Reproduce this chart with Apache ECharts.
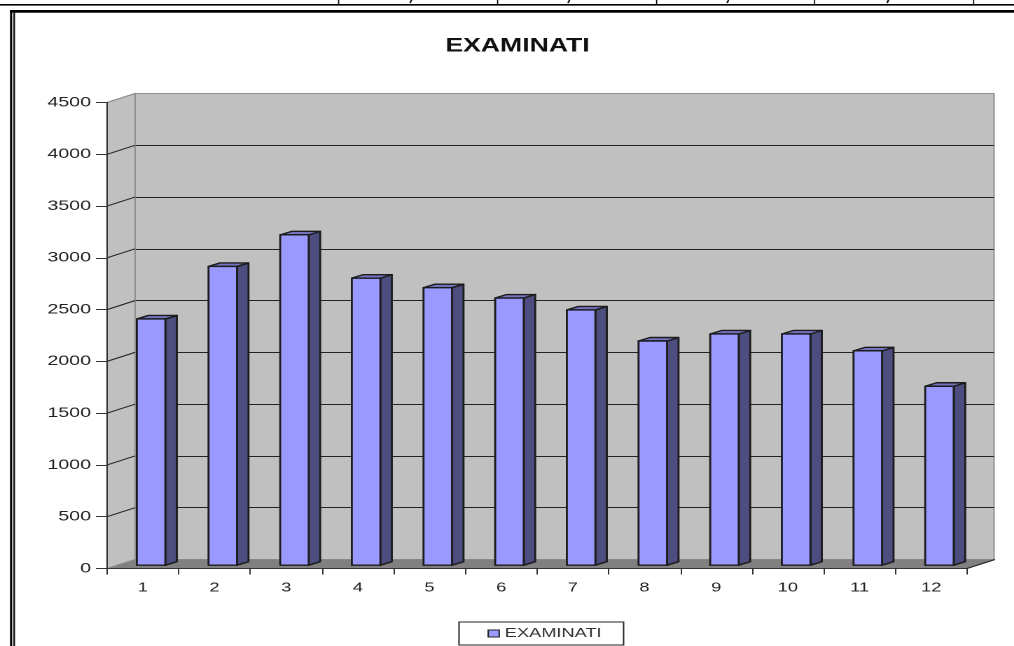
<!DOCTYPE html>
<html>
<head>
<meta charset="utf-8">
<script src="https://cdn.jsdelivr.net/npm/echarts@6/dist/echarts.min.js"></script>
<style>
  html, body { margin: 0; padding: 0; background: #fff; overflow: hidden; }
  /* the original is a horizontally stretched screenshot, so the whole chart is stretched too */
  #main { width: 724px; height: 646px; transform-origin: 0 0; transform: scaleX(1.4006); }
</style>
</head>
<body>
<div id="main"></div>
<script>
const categories = ['1', '2', '3', '4', '5', '6', '7', '8', '9', '10', '11', '12'];
const examinati = [2378, 2885, 3190, 2772, 2680, 2580, 2465, 2165, 2233, 2233, 2070, 1728];
const valueTicks = [0, 500, 1000, 1500, 2000, 2500, 3000, 3500, 4000, 4500];

const sx = 1014 / 724; // page px -> chart px
const px = v => v / sx;
const wallDepth = [px(28), -9];
const barWidth = px(28.5);
const barDepth = [px(11.5), -3.5];
const barShift = [px(8.25), -3.3];

const frontGrid = { left: px(107), right: px(47), top: 102.5, bottom: 77.5 };
const backGrid = { left: px(135), right: px(20), top: 93.5, bottom: 86.5 };

const chart = echarts.init(document.getElementById('main'), null, { devicePixelRatio: 2 });

// left wall + floor of the box, hung on the front grid
function renderWalls(params, api) {
  const c = params.coordSys;
  const d = wallDepth;
  const l = c.x, r = c.x + c.width, t = c.y, b = c.y + c.height;
  return {
    type: 'group',
    children: [
      { type: 'polygon', shape: { points: [[l, t], [l + d[0], t + d[1]], [l + d[0], b + d[1]], [l, b]] },
        style: { fill: '#c0c0c0', stroke: '#909090', lineWidth: 1 } },
      { type: 'polygon', shape: { points: [[l, b], [l + d[0], b + d[1]], [r + d[0], b + d[1]], [r, b]] },
        style: { fill: '#808080' } },
      { type: 'line', shape: { x1: r, y1: b, x2: r + d[0], y2: b + d[1] },
        style: { stroke: '#222', lineWidth: 1 } }
    ]
  };
}

// the slanted gridline piece on the left wall
function renderWallTick(params, api) {
  const v = api.value(1);
  const y = api.coord([0, v])[1];
  const x = params.coordSys.x;
  const edge = v === 0 || v === 4500;
  return {
    type: 'line',
    shape: { x1: x, y1: y, x2: x + wallDepth[0], y2: y + wallDepth[1] },
    style: { stroke: edge ? '#909090' : '#222', lineWidth: 1 }
  };
}

function renderBar(params, api) {
  const idx = api.value(0);
  const top = api.coord([idx, api.value(1)]);
  const base = api.coord([idx, 0]);
  const xl = top[0] + barShift[0] - barWidth / 2;
  const xr = xl + barWidth;
  const yt = top[1] + barShift[1];
  const yb = base[1] + barShift[1];
  const dx = barDepth[0], dy = barDepth[1];
  const edge = { stroke: '#1c1c1c', lineWidth: 1.4, lineJoin: 'round' };
  return {
    type: 'group',
    children: [
      { type: 'polygon', shape: { points: [[xr, yt], [xr + dx, yt + dy], [xr + dx, yb + dy], [xr, yb]] },
        style: Object.assign({ fill: '#4d4d80' }, edge) },
      { type: 'polygon', shape: { points: [[xl, yt], [xl + dx, yt + dy], [xr + dx, yt + dy], [xr, yt]] },
        style: Object.assign({ fill: '#7373bf' }, edge) },
      { type: 'polygon', shape: { points: [[xl, yt], [xr, yt], [xr, yb], [xl, yb]] },
        style: Object.assign({ fill: '#9999ff' }, edge) }
    ]
  };
}

// page furniture around the chart: table edge on top and the double frame
function box(x, y, w, h) {
  return { type: 'rect', shape: { x: px(x), y: y, width: px(w), height: h }, style: { fill: '#000' } };
}
const furniture = [
  box(0, 4, 1014, 1.6),
  box(10, 10, 1004, 2.8),
  box(10, 10, 2.2, 636),
  box(13.4, 12.8, 1.6, 634)
];
[338, 497, 656, 814, 973].forEach(x => furniture.push(box(x, 0, 1.2, 5)));
[410, 568, 727, 887].forEach(x => furniture.push({
  type: 'line', shape: { x1: px(x + 1.5), y1: 0, x2: px(x), y2: 3 }, style: { stroke: '#111', lineWidth: 1.2 }
}));

const option = {
  animation: false,
  textStyle: { fontFamily: '"Liberation Sans", Arial, sans-serif' },
  title: {
    text: 'EXAMINATI',
    left: px(517.5),
    textAlign: 'center',
    top: 37,
    padding: 0,
    textStyle: { fontSize: 19, fontWeight: 'bold', color: '#111', fontFamily: '"Liberation Sans", Arial, sans-serif' }
  },
  legend: {
    data: ['EXAMINATI'],
    left: px(459),
    top: 622,
    icon: 'rect',
    itemWidth: px(11),
    itemHeight: 7,
    itemGap: 0,
    padding: [5, px(22), 5, px(28.5)],
    borderColor: '#222',
    borderWidth: 1,
    backgroundColor: '#fff',
    selectedMode: false,
    itemStyle: { color: '#9999ff', borderColor: '#222', borderWidth: 1 },
    textStyle: { fontSize: 13, color: '#333', padding: [0, 0, 0, -1] }
  },
  graphic: { elements: furniture },
  grid: [
    Object.assign({ show: false }, frontGrid),
    Object.assign({ show: true, backgroundColor: '#c0c0c0', borderColor: '#909090', borderWidth: 1 }, backGrid)
  ],
  xAxis: [
    {
      gridIndex: 0,
      type: 'category',
      data: categories,
      z: 6,
      axisLine: { lineStyle: { color: '#333', width: 1 } },
      axisTick: { show: true, length: 6, alignWithLabel: false, lineStyle: { color: '#333' } },
      axisLabel: { fontSize: 13, color: '#222', margin: 13 }
    },
    { gridIndex: 1, type: 'category', data: categories, show: false }
  ],
  yAxis: [
    {
      gridIndex: 0,
      type: 'value',
      min: 0,
      max: 4500,
      interval: 500,
      z: 6,
      splitLine: { show: false },
      axisLine: { show: true, lineStyle: { color: '#333', width: 1 } },
      axisTick: { show: true, length: px(11), lineStyle: { color: '#333' } },
      axisLabel: { fontSize: 14, color: '#222', margin: px(16), formatter: v => String(v) }
    },
    {
      gridIndex: 1,
      type: 'value',
      min: 0,
      max: 4500,
      interval: 500,
      axisLine: { show: false },
      axisTick: { show: false },
      axisLabel: { show: false },
      splitLine: { show: true, showMinLine: false, showMaxLine: false, lineStyle: { color: '#222', width: 1 } }
    }
  ],
  series: [
    {
      type: 'custom', name: 'walls', xAxisIndex: 0, yAxisIndex: 0, z: 1, silent: true,
      renderItem: renderWalls, data: [[0, 0]]
    },
    {
      type: 'custom', name: 'wall ticks', xAxisIndex: 0, yAxisIndex: 0, z: 2, silent: true,
      renderItem: renderWallTick, data: valueTicks.map(v => [0, v])
    },
    {
      type: 'custom', name: 'EXAMINATI', xAxisIndex: 0, yAxisIndex: 0, z: 3,
      itemStyle: { color: '#9999ff' },
      renderItem: renderBar,
      encode: { x: 0, y: 1 },
      data: examinati.map((v, i) => [i, v])
    }
  ]
};
chart.setOption(option);
</script>
</body>
</html>
